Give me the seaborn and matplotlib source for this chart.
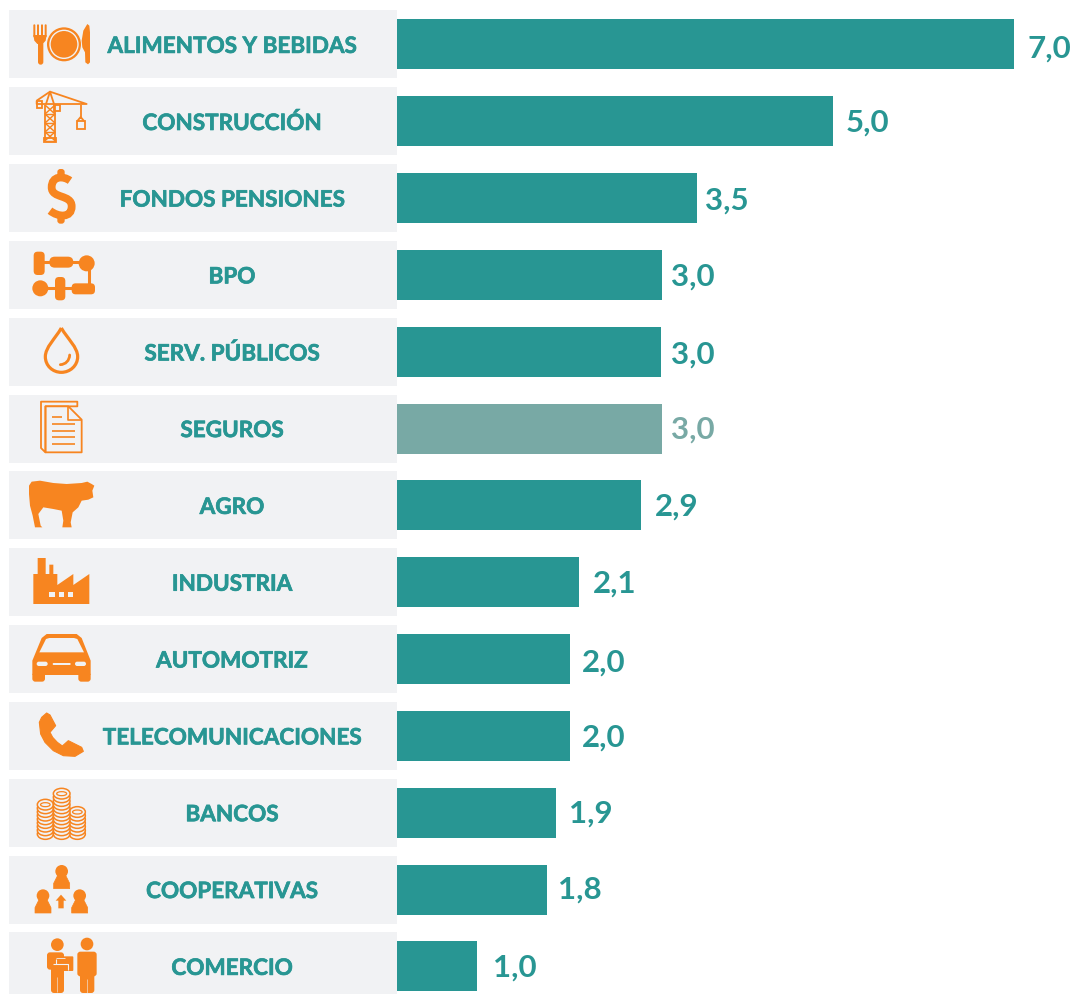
import pandas as pd
import seaborn as sns
import matplotlib.pyplot as plt
import matplotlib.patheffects as pe
from matplotlib.patches import Circle, Ellipse, FancyBboxPatch, Polygon, PathPatch, Rectangle
from matplotlib.path import Path

# Data
sectors = ['ALIMENTOS Y BEBIDAS', 'CONSTRUCCIÓN', 'FONDOS PENSIONES', 'BPO', 'SERV. PÚBLICOS',
           'SEGUROS', 'AGRO', 'INDUSTRIA', 'AUTOMOTRIZ', 'TELECOMUNICACIONES', 'BANCOS',
           'COOPERATIVAS', 'COMERCIO']
# bar lengths as measured (they do not quite follow the printed labels)
values = [7.0, 4.95, 3.41, 3.01, 3.0, 3.01, 2.77, 2.07, 1.96, 1.96, 1.80, 1.70, 0.91]
value_labels = ['7,0', '5,0', '3,5', '3,0', '3,0', '3,0', '2,9', '2,1', '2,0', '2,0', '1,9', '1,8', '1,0']

TEAL = '#289693'
MUTED = '#78A9A5'
ORANGE = '#F78520'
PANEL = '#F1F2F4'
FONT = 'Lato'
colors = [MUTED if s == 'SEGUROS' else TEAL for s in sectors]

# layout in pixels of the 1073x995 picture
W, H = 1073, 995
X0, PX_UNIT = 397, 88.1
Y0, PITCH = 45.4, 76.83

plt.rcParams['font.family'] = [FONT, 'DejaVu Sans']
plt.rcParams['font.weight'] = 'bold'

fig = plt.figure(figsize=(W / 100, H / 100), dpi=100)
ax = fig.add_axes([0, 0, 1, 1])

df = pd.DataFrame({'sector': sectors, 'value': values})
panel_w = 388 / PX_UNIT
ax.barh(range(len(sectors)), [panel_w] * len(sectors), left=-panel_w, height=68 / PITCH,
        color=PANEL, zorder=0)
sns.barplot(data=df, y='sector', x='value', hue='sector', palette=colors, legend=False,
            saturation=1, width=50 / PITCH, ax=ax, zorder=2)
ax.set_xlim(-X0 / PX_UNIT, (W - X0) / PX_UNIT)
ax.set_ylim((H - Y0) / PITCH, -Y0 / PITCH)
ax.axis('off')

# small per-label shifts, the original labels were placed by hand
label_gap = [14, 13, 8, 9, 10, 9, 14, 14, 12, 12, 13, 11, 16]
label_dy = [1, -2, -1, -2, -1, -2, -2, -2, 0, -2, -3, -3, -2]
heavy = [pe.withStroke(linewidth=0.5, foreground=TEAL)]
for i, (val, lab) in enumerate(zip(values, value_labels)):
    ax.annotate(lab, (val, i), xytext=(label_gap[i] * 0.72, -label_dy[i] * 0.72),
                textcoords='offset points', va='center_baseline', ha='left',
                fontsize=22.5, color=colors[i], zorder=3)
    ax.annotate(sectors[i], (-165 / PX_UNIT, i), ha='center', va='center_baseline',
                fontsize=16.2, color=TEAL, zorder=3, path_effects=heavy)

# Icons, drawn on a pixel overlay
ic = fig.add_axes([0, 0, 1, 1])
ic.set_xlim(0, W)
ic.set_ylim(H, 0)
ic.axis('off')
ic.patch.set_alpha(0)


def z(pts, oy=0):
    return [(x / 3, oy + y / 3) for x, y in pts]


def poly(pts, oy=0, fc=ORANGE, ec='none', lw=0, closed=True):
    ic.add_patch(Polygon(z(pts, oy), closed=closed, fc=fc, ec=ec, lw=lw, joinstyle='round'))


def rrect(x0, y0, x1, y1, oy=0, r=4, fc=ORANGE):
    x, y = x0 / 3, oy + y0 / 3
    w, h = (x1 - x0) / 3, (y1 - y0) / 3
    r = min(r, w / 2, h / 2)
    ic.add_patch(FancyBboxPatch((x + r, y + r), w - 2 * r, h - 2 * r,
                                boxstyle=f'round,pad={r}', fc=fc, ec='none', lw=0))


def circ(x, y, r, oy=0, fc=ORANGE, ec='none', lw=0):
    ic.add_patch(Circle((x / 3, oy + y / 3), r / 3, fc=fc, ec=ec, lw=lw))


def stroke(pts, oy=0, lw=1.0, color=ORANGE, cap='butt'):
    xs, ys = zip(*z(pts, oy))
    ic.plot(xs, ys, color=color, lw=lw, solid_capstyle=cap)


def curve(pts, oy=0, lw=1.0, color=ORANGE, fc='none', cap='butt'):
    # pts: start point followed by bezier triples
    codes = [Path.MOVETO] + [Path.CURVE4] * (len(pts) - 1)
    ic.add_patch(PathPatch(Path(z(pts, oy), codes), fc=fc, ec=color, lw=lw, capstyle=cap))


# fork, plate, knife
for x in (103, 114, 126, 137):
    rrect(x - 3, 76, x + 3, 115, r=1)
poly([(100, 108), (140, 108), (137, 125), (128, 135), (112, 135), (103, 125)])
rrect(114, 128, 130, 197)
circ(192, 136, 51)
circ(192, 136, 42, fc='none', ec=PANEL, lw=1)
poly([(262, 75), (268, 80), (270, 100), (270, 190), (264, 196), (256, 190), (255, 160),
      (247, 145), (245, 125), (250, 95)])

# crane
L = 1.3
stroke([(135, 318), (135, 425)], lw=L)
stroke([(165, 318), (165, 425)], lw=L)
for a, b in [(318, 345), (345, 372), (372, 399), (399, 425)]:
    stroke([(135, a), (165, b)], lw=L * 0.8)
    stroke([(165, a), (135, b)], lw=L * 0.8)
    stroke([(135, b), (165, b)], lw=L * 0.8)
stroke([(110, 305), (150, 278), (260, 315), (110, 315), (110, 305)], lw=L)
stroke([(138, 315), (150, 278), (162, 315)], lw=L)
ic.add_patch(Rectangle((36.5, 102), 5.5, 7, fc='none', ec=ORANGE, lw=L))
ic.add_patch(Rectangle((44, 139), 11.5, 4, fc='none', ec=ORANGE, lw=L))
ic.add_patch(Rectangle((54, 106), 6, 6, fc='none', ec=ORANGE, lw=L))
stroke([(242, 317), (242, 360)], lw=L)
ic.add_patch(Rectangle((77, 122), 8, 7.5, fc='none', ec=ORANGE, lw=L))
stroke([(232, 366), (242, 354), (252, 366)], lw=L)

# dollar
curve([(210, 545), (190, 530), (155, 530), (155, 565), (155, 600), (215, 585), (215, 622),
       (215, 658), (175, 655), (150, 635)], lw=5.6)
rrect(172, 510, 194, 535, r=3)
rrect(172, 650, 194, 674, r=3)

# BPO
stroke([(130, 789), (250, 789)], lw=2.2)
stroke([(266, 790), (266, 870)], lw=2.2)
stroke([(125, 868), (230, 868)], lw=2.2)
rrect(101, 758, 134, 828)
rrect(148, 773, 220, 806, r=9)
circ(260, 793, 24)
circ(121, 868, 24)
rrect(165, 834, 196, 904)
rrect(215, 853, 285, 886)

# drop
curve([(184, 57), (165, 90), (136, 115), (136, 143), (136, 170), (158, 190), (184, 190),
       (210, 190), (233, 170), (233, 143), (233, 115), (203, 90), (184, 57)], oy=310, lw=2.3)
curve([(181, 167), (197, 166), (208, 155), (209, 138)], oy=310, lw=2.0, cap='round')

# documents
poly([(136, 292), (136, 430), (123, 417), (123, 278), (232, 278), (232, 292)], oy=310,
     fc='none', ec=ORANGE, lw=1.3)
poly([(137, 292), (205, 292), (245, 332), (245, 430), (137, 430)], oy=310, fc=PANEL,
     ec=ORANGE, lw=1.3)
stroke([(205, 292), (205, 332), (245, 332)], oy=310, lw=1.2)
stroke([(157, 323), (186, 323)], oy=310, lw=1.2)
for y in (345, 365, 385, 405):
    stroke([(157, y), (225, y)], oy=310, lw=1.2)

# cow
poly([(87, 530), (95, 518), (120, 515), (160, 522), (200, 525), (245, 522), (262, 518),
      (275, 525), (283, 530), (277, 545), (280, 565), (265, 572), (245, 575), (235, 595),
      (218, 610), (212, 640), (215, 655), (187, 655), (190, 635), (185, 605), (160, 600),
      (130, 595), (115, 615), (122, 650), (127, 655), (105, 655), (98, 620), (90, 590),
      (87, 555)], oy=310)

# factory
poly([(100, 885), (100, 795), (113, 795), (113, 747), (137, 747), (137, 795), (148, 795),
      (148, 767), (160, 767), (160, 795), (172, 795), (172, 828), (220, 795), (220, 828),
      (268, 795), (268, 885)], oy=310)
for x in (148, 176, 204):
    poly([(x, 850), (x + 16, 850), (x + 16, 865), (x, 865)], oy=310, fc=PANEL)

# car
poly([(97, 125), (125, 57), (140, 45), (230, 45), (245, 57), (272, 125), (272, 168), (97, 168)], oy=620)
poly([(118, 100), (138, 60), (148, 57), (222, 57), (232, 60), (252, 100)], oy=620, fc=PANEL)
rrect(97, 160, 135, 188, oy=620, r=3)
rrect(235, 160, 272, 188, oy=620, r=3)
rrect(110, 128, 143, 141, oy=620, r=4, fc=PANEL)
rrect(225, 128, 258, 141, oy=620, r=4, fc=PANEL)
rrect(158, 132, 212, 138, oy=620, r=1, fc=PANEL)

# phone
poly([(118, 310), (125, 295), (140, 282), (150, 288), (167, 320), (150, 340), (158, 355),
      (172, 370), (187, 381), (205, 365), (245, 385), (250, 397), (225, 412), (190, 410),
      (160, 395), (135, 370), (122, 345)], oy=620, ec=ORANGE, lw=0.8)

# coins
for x0, x1, top in [(112, 160, 556), (208, 256, 578), (160, 210, 516)]:
    y = 645
    while y >= top:
        ic.add_patch(Ellipse(((x0 + x1) / 6, 620 + y / 3), (x1 - x0) / 3, 32 / 3, fc=PANEL,
                             ec=ORANGE, lw=1.1))
        y -= 11
    ic.add_patch(Ellipse(((x0 + x1) / 6, 620 + (y + 11) / 3), (x1 - x0) / 5, 12 / 3, fc='none',
                         ec=ORANGE, lw=0.9))


# cooperativas
def person(x, head_y, oy):
    circ(x, head_y, 19, oy=oy)
    poly([(x - 12, head_y + 12), (x + 12, head_y + 12), (x + 24, head_y + 36),
          (x + 24, head_y + 52), (x - 24, head_y + 52), (x - 24, head_y + 36)], oy=oy,
         ec=ORANGE, lw=0.5)


person(185, 757, 620)
person(129, 830, 620)
person(239, 830, 620)
poly([(183, 827), (199, 845), (191, 845), (191, 868), (175, 868), (175, 845), (167, 845)], oy=620)

# comercio
circ(172, 977, 19, oy=620)
circ(261, 975, 19, oy=620)
rrect(141, 1000, 192, 1052, oy=620, r=3)
rrect(153, 1040, 192, 1122, oy=620, r=3)
rrect(232, 998, 290, 1072, oy=620, r=3)
rrect(240, 1060, 283, 1122, oy=620, r=3)
rrect(168, 1012, 220, 1056, oy=620, r=1)
stroke([(160, 1034), (205, 1034), (205, 1052)], oy=620, lw=0.8, color=PANEL)
stroke([(168, 1020), (168, 1034)], oy=620, lw=0.8, color=PANEL)
stroke([(168, 1016), (195, 1016)], oy=620, lw=0.6, color=PANEL)
stroke([(172, 1120), (172, 1075)], oy=620, lw=0.4, color=PANEL)
stroke([(261, 1122), (261, 1080)], oy=620, lw=0.4, color=PANEL)

fig.savefig('out.png', dpi=100)
